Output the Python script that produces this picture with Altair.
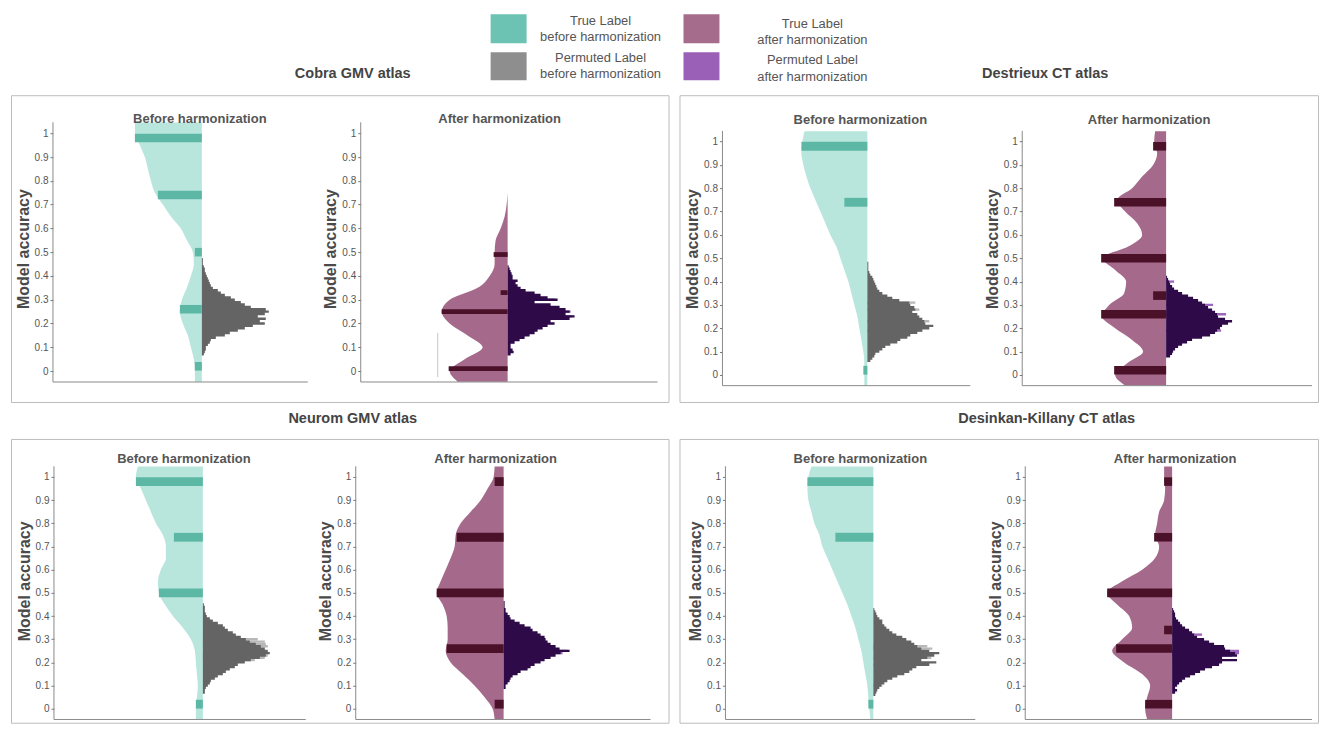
import altair as alt
import pandas as pd

# ---------------- shared grids ----------------
ACC_GRID = [-0.045] + [round(i * 0.05, 2) for i in range(21)] + [1.045]
TICKS = [round(i * 0.1, 1) for i in range(11)]
BIN = 0.01

# ---------------- Cobra GMV atlas ----------------
cobra_before_violin = [7, 7, 8, 11, 14, 19, 22, 20, 15, 11, 8, 9, 15, 21, 31, 39, 47, 51, 54, 57, 62, 67, 67]
cobra_before_true_acc = [0.98, 0.74, 0.50, 0.26, 0.02]
cobra_before_true_cnt = [67, 44, 7, 22, 7]
cobra_before_perm_start = 0.07
cobra_before_perm = [1, 2, 3, 4, 4, 6, 8, 9, 14, 23, 28, 36, 43, 51, 63, 58, 64, 56, 63, 67,
                     64, 49, 43, 39, 33, 29, 23, 19, 16, 11, 9, 8, 7, 6, 5, 4, 3, 3, 2, 1, 1, 1]
cobra_before_perm_alt = {}

cobra_after_violin = [50, 58, 43, 25, 40, 58, 66, 58, 30, 18, 13, 13, 12, 7, 3, 1, 0,
                      None, None, None, None, None, None]
cobra_after_true_acc = [0.49, 0.33, 0.25, 0.01]
cobra_after_true_cnt = [14, 7, 66, 59]
cobra_after_perm_start = 0.07
cobra_after_perm = [2, 3, 6, 5, 3, 3, 7, 12, 17, 22, 27, 30, 35, 40, 47, 43, 62, 67, 58, 62,
                    58, 52, 43, 27, 50, 40, 33, 27, 18, 13, 10, 8, 10, 5, 5, 4, 3, 2, 1]
cobra_after_perm_alt = {0.30: 47, 0.22: 53, 0.25: 63, 0.23: 64}

# ---------------- Destrieux CT atlas ----------------
destrieux_before_violin = [3, 3, 3, 4, 6, 8, 10, 13, 16, 19, 23, 27, 31, 37, 42, 47, 52, 57, 61, 64, 66, 65, 63]
destrieux_before_true_acc = [0.98, 0.74, 0.02]
destrieux_before_true_cnt = [66, 23, 4]
destrieux_before_perm_start = 0.06
destrieux_before_perm = [2, 3, 5, 7, 8, 12, 15, 18, 23, 30, 33, 40, 43, 50, 55, 62, 66, 58, 57, 55,
                         52, 50, 45, 48, 47, 43, 42, 32, 25, 20, 15, 12, 10, 9, 8, 7, 6, 5, 3, 2,
                         1, 1, 1, 1]
destrieux_before_perm_alt = {0.31: 48, 0.28: 52, 0.19: 55, 0.23: 62}

destrieux_after_violin = [41, 51, 39, 23, 34, 51, 64, 57, 42, 40, 51, 64, 38, 24, 29, 41, 49, 34, 24, 13, 9, 12, 11]
destrieux_after_true_acc = [0.98, 0.74, 0.50, 0.34, 0.26, 0.02]
destrieux_after_true_cnt = [13, 52, 65, 13, 65, 52]
destrieux_after_perm_start = 0.08
destrieux_after_perm = [2, 4, 6, 7, 9, 12, 16, 21, 26, 36, 44, 49, 51, 54, 56, 62, 66, 59, 52, 51,
                        49, 46, 42, 39, 36, 32, 27, 22, 16, 12, 8, 6, 4, 3, 2, 1]
destrieux_after_perm_alt = {0.40: 8, 0.30: 47, 0.26: 60, 0.19: 55}

# ---------------- Neurom GMV atlas ----------------
neurom_before_violin = [7, 7, 6, 5, 6, 7, 8, 12, 20, 30, 38, 44, 45, 42, 37, 37, 40, 47, 52, 57, 62, 67, 65]
neurom_before_true_acc = [0.98, 0.74, 0.50, 0.02]
neurom_before_true_cnt = [67, 29, 44, 7]
neurom_before_perm_start = 0.07
neurom_before_perm = [1, 2, 2, 3, 5, 7, 8, 12, 15, 20, 23, 27, 32, 35, 42, 48, 57, 63, 67, 65,
                      62, 58, 53, 47, 43, 38, 33, 30, 25, 22, 20, 15, 10, 7, 4, 3, 2, 2, 2, 1]
neurom_before_perm_alt = {0.30: 55, 0.29: 62, 0.28: 63, 0.27: 65, 0.24: 65, 0.23: 65, 0.22: 62, 0.21: 52}

neurom_after_violin = [9, 11, 19, 29, 41, 53, 58, 56, 56, 57, 61, 67, 63, 58, 53, 49, 48, 43, 33, 23, 16, 10, 9]
neurom_after_true_acc = [0.98, 0.74, 0.50, 0.26, 0.02]
neurom_after_true_cnt = [9, 47, 67, 57, 9]
neurom_after_perm_start = 0.09
neurom_after_perm = [1, 2, 2, 4, 6, 7, 9, 14, 17, 24, 27, 31, 37, 41, 47, 52, 57, 66, 56, 52,
                     47, 44, 42, 41, 37, 34, 29, 27, 21, 16, 11, 7, 6, 4, 2, 2, 1, 1, 1]
neurom_after_perm_alt = {0.25: 64, 0.24: 59}

# ---------------- Desinkan-Killany CT atlas ----------------
desikan_before_violin = [3, 4, 5, 6, 8, 10, 12, 15, 18, 22, 26, 31, 36, 41, 46, 51, 54, 59, 62, 65, 66, 65, 62]
desikan_before_true_acc = [0.98, 0.74, 0.02]
desikan_before_true_cnt = [66, 38, 5]
desikan_before_perm_start = 0.06
desikan_before_perm = [1, 2, 3, 4, 6, 8, 11, 14, 19, 24, 31, 36, 39, 43, 56, 63, 48, 54, 61, 66,
                       56, 48, 44, 41, 38, 33, 29, 23, 19, 16, 13, 11, 9, 9, 6, 4, 3, 2, 1]
desikan_before_perm_alt = {0.27: 54, 0.26: 59, 0.22: 58, 0.19: 51, 0.10: 9}

desikan_after_violin = [25, 27, 25, 22, 30, 48, 60, 50, 40, 43, 55, 65, 50, 30, 17, 13, 17, 15, 13, 8, 7, 8, 8]
desikan_after_true_acc = [0.98, 0.74, 0.50, 0.34, 0.26, 0.02]
desikan_after_true_cnt = [8, 18, 65, 8, 56, 27]
desikan_after_perm_start = 0.07
desikan_after_perm = [2, 3, 5, 3, 5, 7, 10, 13, 18, 23, 28, 33, 40, 47, 50, 65, 50, 65, 63, 58,
                      53, 52, 42, 37, 32, 25, 22, 20, 17, 13, 10, 8, 6, 4, 3, 3, 2, 1]
desikan_after_perm_alt = {0.32: 30, 0.25: 67, 0.24: 67, 0.23: 60}

# ---------------- styles ----------------
PALETTE = {
    "before": {"violin": "#b8e6dd", "bar": "#5cb8a4", "perm": "#646464", "alt": "#b8b8b8"},
    "after": {"violin": "#a56a8b", "bar": "#4a1129", "perm": "#2e0a48", "alt": "#9c66bb"},
}
FONT = "Liberation Sans"
AXIS_COLOR = "#8a8a8a"


def panel(kind, violin, t_acc, t_cnt, bar_h, p_start, perm, p_alt, layout):
    return dict(kind=kind, violin=violin, t_acc=t_acc, t_cnt=t_cnt, bar_h=bar_h,
                p_start=p_start, perm=perm, p_alt=p_alt, **layout)


def group_chart(panels, W, H, ydom, extra_lines=None, title=None, dx=0):
    xs = alt.Scale(domain=[0, W], nice=False, zero=False)
    ys = alt.Scale(domain=ydom, nice=False, zero=False)
    vio, bars, perm, light, lines, subs = [], [], [], [], [], []
    for i, p in enumerate(panels):
        pal = PALETTE[p["kind"]]
        c = p["center"]
        for a, w in zip(ACC_GRID, p["violin"]):
            if w is not None:
                vio.append(dict(panel=i, acc=a, xl=c - w, xc=c, col=pal["violin"]))
        for a, w in zip(p["t_acc"], p["t_cnt"]):
            bars.append(dict(x=c - w, x2=c, y=a - p["bar_h"] / 2, y2=a + p["bar_h"] / 2, col=pal["bar"]))
        # permuted histogram as one stepped outline (bin lower edges, then closing edge)
        n = len(p["perm"])
        for k, w in enumerate(p["perm"] + [0]):
            lo = round(p["p_start"] - BIN / 2 + k * BIN, 4)
            perm.append(dict(panel=i, acc=lo, xr=c + w, xc=c, col=pal["perm"]))
        for a, w in p["p_alt"].items():
            light.append(dict(x=c, x2=c + w, y=a - BIN / 2, y2=a + BIN / 2, col=pal["alt"]))
        lines.append(dict(x=p["axis_x"], x2=p["end_x"], y=-0.046, y2=-0.046))
        subs.append(dict(x=p["sub_x"], y=p["sub_y"], t=p["sub"]))

    X = lambda f: alt.X(f, scale=xs, axis=None)
    Y = lambda f: alt.Y(f, scale=ys, axis=None)

    layers = []
    layers.append(
        alt.Chart(pd.DataFrame(vio)).mark_area(orient="horizontal", interpolate="monotone").encode(
            y=Y("acc:Q"), x=X("xl:Q"), x2="xc:Q",
            color=alt.Color("col:N", scale=None), detail="panel:N")
    )
    if light:
        layers.append(
            alt.Chart(pd.DataFrame(light)).mark_rect().encode(
                x=X("x:Q"), x2="x2:Q", y=Y("y:Q"), y2="y2:Q", color=alt.Color("col:N", scale=None))
        )
    layers.append(
        alt.Chart(pd.DataFrame(perm)).mark_area(orient="horizontal", interpolate="step-before").encode(
            y=Y("acc:Q"), x=X("xr:Q"), x2="xc:Q",
            color=alt.Color("col:N", scale=None), detail="panel:N")
    )
    layers.append(
        alt.Chart(pd.DataFrame(bars)).mark_rect().encode(
            x=X("x:Q"), x2="x2:Q", y=Y("y:Q"), y2="y2:Q", color=alt.Color("col:N", scale=None))
    )
    layers.append(
        alt.Chart(pd.DataFrame(lines)).mark_rule(color=AXIS_COLOR, strokeWidth=1).encode(
            x=X("x:Q"), x2="x2:Q", y=Y("y:Q"), y2="y2:Q")
    )
    if extra_lines:
        layers.append(
            alt.Chart(pd.DataFrame(extra_lines)).mark_rule(color="#cfcfcf", strokeWidth=1.2).encode(
                x=X("x:Q"), y=Y("y:Q"), y2="y2:Q")
        )
    # y-axes (one per panel) drawn with the shared y scale
    for p in panels:
        ax = alt.Axis(orient="left", offset=-p["axis_x"], values=TICKS, format=".1~f",
                      domain=False, grid=False, ticks=True, tickSize=3, tickColor="#777777",
                      labelFontSize=10, labelColor="#555555", labelPadding=2, labelFont=FONT,
                      title="Model accuracy", titleFontSize=16, titleFontWeight="bold",
                      titleColor="#4a4a4a", titlePadding=3, titleFont=FONT)
        layers.append(
            alt.Chart(pd.DataFrame([dict(x=p["axis_x"], y=-0.046, y2=1.046)])).mark_rule(
                color=AXIS_COLOR, strokeWidth=1).encode(
                x=X("x:Q"), y=alt.Y("y:Q", scale=ys, axis=ax), y2="y2:Q")
        )
    layers.append(
        alt.Chart(pd.DataFrame(subs)).mark_text(
            font=FONT, fontSize=13, fontWeight="bold", color="#555555", align="center", baseline="middle"
        ).encode(x=X("x:Q"), y=Y("y:Q"), text="t:N")
    )
    props = dict(width=W, height=H, view=alt.ViewBackground(stroke="#bcbcbc", strokeWidth=1))
    if title:
        props["title"] = alt.TitleParams(title, fontSize=14.5, fontWeight="bold", color="#444444",
                                         font=FONT, anchor="middle", dx=dx, offset=12)
    return alt.layer(*layers).resolve_axis(y="independent").properties(**props)


W1, W2 = 658, 639
H1, H2 = 307, 284
Y_G1 = [-0.130, 1.160]
Y_G2 = [-0.116, 1.199]
Y_ROW2 = [-0.060, 1.164]

g1 = group_chart([
    panel("before", cobra_before_violin, cobra_before_true_acc, cobra_before_true_cnt, 0.036,
          cobra_before_perm_start, cobra_before_perm, cobra_before_perm_alt,
          dict(axis_x=42, end_x=297, center=191, sub_x=189, sub_y=1.059, sub="Before harmonization")),
    panel("after", cobra_after_violin, cobra_after_true_acc, cobra_after_true_cnt, 0.02,
          cobra_after_perm_start, cobra_after_perm, cobra_after_perm_alt,
          dict(axis_x=350, end_x=647, center=497, sub_x=489, sub_y=1.059, sub="After harmonization")),
], W1, H1, Y_G1, extra_lines=[dict(x=427, y=-0.025, y2=0.16)])

g2 = group_chart([
    panel("before", destrieux_before_violin, destrieux_before_true_acc, destrieux_before_true_cnt, 0.038,
          destrieux_before_perm_start, destrieux_before_perm, destrieux_before_perm_alt,
          dict(axis_x=43, end_x=291, center=188, sub_x=181, sub_y=1.092, sub="Before harmonization")),
    panel("after", destrieux_after_violin, destrieux_after_true_acc, destrieux_after_true_cnt, 0.037,
          destrieux_after_perm_start, destrieux_after_perm, destrieux_after_perm_alt,
          dict(axis_x=343, end_x=633, center=487, sub_x=470, sub_y=1.092, sub="After harmonization")),
], W2, H1, Y_G2)

g3 = group_chart([
    panel("before", neurom_before_violin, neurom_before_true_acc, neurom_before_true_cnt, 0.038,
          neurom_before_perm_start, neurom_before_perm, neurom_before_perm_alt,
          dict(axis_x=43, end_x=295, center=192, sub_x=173, sub_y=1.078, sub="Before harmonization")),
    panel("after", neurom_after_violin, neurom_after_true_acc, neurom_after_true_cnt, 0.038,
          neurom_after_perm_start, neurom_after_perm, neurom_after_perm_alt,
          dict(axis_x=345, end_x=640, center=493, sub_x=485, sub_y=1.078, sub="After harmonization")),
], W1, H2, Y_ROW2, title="Neurom GMV atlas", dx=13)

g4 = group_chart([
    panel("before", desikan_before_violin, desikan_before_true_acc, desikan_before_true_cnt, 0.038,
          desikan_before_perm_start, desikan_before_perm, desikan_before_perm_alt,
          dict(axis_x=46, end_x=296, center=194, sub_x=181, sub_y=1.078, sub="Before harmonization")),
    panel("after", desikan_after_violin, desikan_after_true_acc, desikan_after_true_cnt, 0.037,
          desikan_after_perm_start, desikan_after_perm, desikan_after_perm_alt,
          dict(axis_x=346, end_x=633, center=493, sub_x=496, sub_y=1.078, sub="After harmonization")),
], W2, H2, Y_ROW2, title="Desinkan-Killany CT atlas", dx=48)

# ---------------- legend + first-row titles ----------------
legend_labels = ["True Label", "before harmonization", "Permuted Label", "before harmonization",
                 "True Label", "after harmonization", "Permuted Label", "after harmonization"]
legend_colors = ["#6cc3b3", "#8e8e8e", "#a66c8c", "#9a5fb6"]
row1_titles = ["Cobra GMV atlas", "Destrieux CT atlas"]

TW, TH = W1 + 9 + W2, 76
txs = alt.Scale(domain=[0, TW], nice=False, zero=False)
tys = alt.Scale(domain=[0, TH], nice=False, zero=False, reverse=True)
sw = pd.DataFrame(dict(x=[480, 480, 673, 673], x2=[516, 516, 709, 709],
                       y=[5, 43, 5, 43], y2=[34, 71, 34, 71], col=legend_colors))
lt = pd.DataFrame(dict(t=legend_labels,
                       x=[590, 590, 590, 590, 802, 802, 802, 802],
                       y=[12, 28, 49, 65, 15, 31, 51, 68]))
tt = pd.DataFrame(dict(t=row1_titles, x=[342, 1035], y=[65, 65]))

top = alt.layer(
    alt.Chart(sw).mark_rect().encode(
        x=alt.X("x:Q", scale=txs, axis=None), x2="x2:Q",
        y=alt.Y("y:Q", scale=tys, axis=None), y2="y2:Q",
        color=alt.Color("col:N", scale=None)),
    alt.Chart(lt).mark_text(font=FONT, fontSize=12.9, color="#555555", align="center", baseline="middle").encode(
        x=alt.X("x:Q", scale=txs, axis=None), y=alt.Y("y:Q", scale=tys, axis=None), text="t:N"),
    alt.Chart(tt).mark_text(font=FONT, fontSize=14.5, fontWeight="bold", color="#444444",
                            align="center", baseline="middle").encode(
        x=alt.X("x:Q", scale=txs, axis=None), y=alt.Y("y:Q", scale=tys, axis=None), text="t:N"),
).properties(width=TW, height=TH, view=alt.ViewBackground(stroke="transparent"))

chart = alt.vconcat(
    top,
    alt.hconcat(g1, g2, spacing=9),
    alt.hconcat(g3, g4, spacing=9),
    spacing=8,
).properties(
    padding={"left": 2, "top": 0, "right": 0, "bottom": 0},
    background="white",
).configure(font=FONT)

chart.save("out.html", embed_options={"renderer": "svg", "actions": False})
